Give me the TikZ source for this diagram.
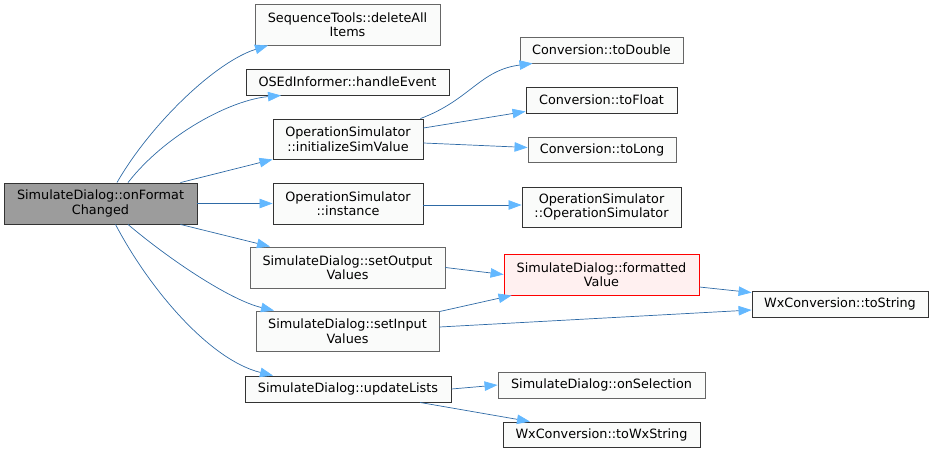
\documentclass[tikz,border=0pt]{standalone}
\usepackage{fontspec}
\setmainfont{DejaVu Sans}
\usetikzlibrary{arrows.meta}

\definecolor{edgeblue}{HTML}{2E6AA6}
\definecolor{tipblue}{HTML}{63B8FF}
\definecolor{boxfill}{HTML}{FAFBFA}
\definecolor{rootfill}{HTML}{9C9C9C}

\begin{document}
\begin{tikzpicture}[x=1pt, y=-1pt]
        % Define styles for the boxes and the arrows
        \tikzset{
            func/.style={draw=black!60, line width=0.9pt, fill=boxfill, inner sep=0pt, align=center, font=\fontsize{12.8}{14.5}\selectfont},
            funcdark/.style={func, draw=black!80},
            root/.style={funcdark, fill=rootfill},
            hilite/.style={func, draw=red, fill=red!6},
            call arrow/.style={draw=edgeblue, line width=0.7pt, -{Triangle[length=13pt, width=9.5pt, color=tipblue]}}
        }
        \useasboundingbox (0,0) rectangle (933,453);

        % Caller
        \node[root, minimum width=193pt, minimum height=41pt] (main) at (100.5,203.5) {SimulateDialog::onFormat\\Changed};

        % Functions called directly
        \node[func, minimum width=185pt, minimum height=41pt] (delall) at (347.5,24.5) {SequenceTools::deleteAll\\Items};
        \node[funcdark, minimum width=203pt, minimum height=26pt] (handle) at (347.5,82) {OSEdInformer::handleEvent};
        \node[funcdark, minimum width=150pt, minimum height=40pt] (initsim) at (348,139) {OperationSimulator\\::initializeSimValue};
        \node[funcdark, minimum width=150pt, minimum height=41pt] (inst) at (348,203.5) {OperationSimulator\\::instance};
        \node[func, minimum width=195pt, minimum height=41pt] (setout) at (347.5,267.5) {SimulateDialog::setOutput\\Values};
        \node[func, minimum width=183pt, minimum height=40pt] (setin) at (347.5,331) {SimulateDialog::setInput\\Values};
        \node[funcdark, minimum width=206pt, minimum height=26pt] (upd) at (348,389) {SimulateDialog::updateLists};

        % Functions one level further
        \node[func, minimum width=163pt, minimum height=26pt] (todouble) at (601.5,50) {Conversion::toDouble};
        \node[funcdark, minimum width=151pt, minimum height=26pt] (tofloat) at (601.5,100) {Conversion::toFloat};
        \node[func, minimum width=148pt, minimum height=25pt] (tolong) at (602,149.5) {Conversion::toLong};
        \node[funcdark, minimum width=159pt, minimum height=40pt] (opsim) at (601.5,207) {OperationSimulator\\::OperationSimulator};
        \node[hilite, minimum width=195pt, minimum height=41pt] (fmt) at (601.5,274.5) {SimulateDialog::formatted\\Value};
        \node[func, minimum width=207pt, minimum height=26pt] (onsel) at (601.5,385) {SimulateDialog::onSelection};
        \node[funcdark, minimum width=197pt, minimum height=25pt] (towx) at (601.5,434.5) {WxConversion::toWxString};
        \node[funcdark, minimum width=176pt, minimum height=26pt] (tostr) at (840,304) {WxConversion::toString};

        % Calls from the caller
        \draw[call arrow] ([xshift=16.5]main.north) .. controls (150,125) and (215,62) .. ([xshift=-79.5]delall.south);
        \draw[call arrow] ([xshift=27.5]main.north) .. controls (165,135) and (230,100) .. ([xshift=-66.5]handle.south);
        \draw[call arrow] ([xshift=80]main.north) -- (initsim.south west);
        \draw[call arrow] (main.east) -- (inst.west);
        \draw[call arrow] ([xshift=80]main.south) -- ([xshift=-77.5]setout.north);
        \draw[call arrow] ([xshift=27.5]main.south) .. controls (170,260) and (230,300) .. ([xshift=-73.5]setin.north);
        \draw[call arrow] ([xshift=15]main.south) .. controls (150,290) and (210,360) .. ([xshift=-75]upd.north);

        % Calls one level further
        \draw[call arrow] ([xshift=-3]initsim.north east) .. controls (470,100) and (480,70) .. ([xshift=13]todouble.south west);
        \draw[call arrow] ([yshift=11]initsim.east) -- ([yshift=2]tofloat.south west);
        \draw[call arrow] ([yshift=-4]initsim.east) -- ([yshift=2]tolong.west);
        \draw[call arrow] ([yshift=-1.5]inst.east) -- ([yshift=-1.5]inst.east -| opsim.west);
        \draw[call arrow] (setout.east) -- (fmt.west);
        \draw[call arrow] ([yshift=-1]setin.north east) -- ([xshift=8]fmt.south west);
        \draw[call arrow] ([yshift=4]setin.east) -- ([yshift=-6]tostr.west);
        \draw[call arrow] ([yshift=-12.5]fmt.east) -- ([yshift=-2]tostr.north west);
        \draw[call arrow] (upd.east) -- (onsel.west);
        \draw[call arrow] ([xshift=72]upd.south) -- ([xshift=-71.5]towx.north);

    \end{tikzpicture}
\end{document}
